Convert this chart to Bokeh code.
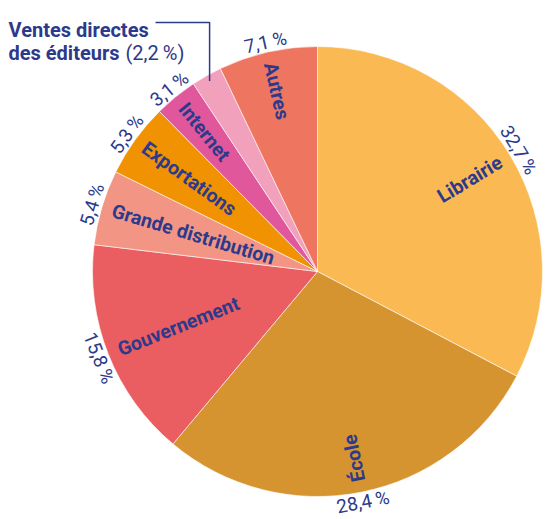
import numpy as np
from bokeh.plotting import figure
from bokeh.models import Range1d, ColumnDataSource
from bokeh.core.properties import value
from bokeh.embed import file_html
from bokeh.resources import INLINE

# ---- data ----
categories = ["Librairie", "École", "Gouvernement", "Grande distribution",
              "Exportations", "Internet", "Ventes directes des éditeurs", "Autres"]
shares = [32.7, 28.4, 15.8, 5.4, 5.3, 3.1, 2.2, 7.1]
colors = ["#FAB952", "#D5942F", "#EA5E61", "#F39585",
          "#F09201", "#E0579B", "#F2A1BD", "#EE7660"]
callout_category = "Ventes directes des éditeurs"
callout_lines = ["Ventes directes", "des éditeurs"]

NAVY = "#2D3A8C"
FONT = "Roboto"

W, H = 545, 519
cx, cy = 317, H - 271
R = 225

def fmt_pct(v):
    return f"{v:.1f}".replace(".", ",") + "\u2009%"

vals = np.array(shares, dtype=float)
cum = np.concatenate([[0.0], np.cumsum(vals)]) / vals.sum()
start = np.pi / 2 - 2 * np.pi * cum[:-1]
end = np.pi / 2 - 2 * np.pi * cum[1:]
mid = (start + end) / 2

p = figure(width=W, height=H, x_range=Range1d(0, W), y_range=Range1d(0, H),
           output_backend="svg", toolbar_location=None, min_border=0,
           x_axis_location=None, y_axis_location=None)
p.grid.visible = False
p.outline_line_color = None
p.background_fill_color = "white"

src = ColumnDataSource(dict(start=start, end=end, color=colors))
p.wedge(x=cx, y=cy, radius=R, start_angle="start", end_angle="end",
        direction="clock", fill_color="color", line_color="white",
        line_width=0.6, source=src)

# in-slice category labels (radial)
lx, ly, lt, la, lal = [], [], [], [], []
px, py, pt, pa = [], [], [], []
for cat, v, a in zip(categories, shares, mid):
    if cat == callout_category:
        continue
    r_lab = 214
    if np.cos(a) > 0.5:
        rot, al = a, "right"
    else:
        rot, al = a + np.pi, "left"
    lx.append(cx + r_lab * np.cos(a)); ly.append(cy + r_lab * np.sin(a))
    lt.append(cat); la.append(rot); lal.append(al)
    # percentage labels (tangential)
    rr = a - np.pi / 2
    while rr <= -np.pi / 2:
        rr += np.pi
    while rr > np.pi / 2:
        rr -= np.pi
    r_pct = 235
    px.append(cx + r_pct * np.cos(a)); py.append(cy + r_pct * np.sin(a))
    pt.append(fmt_pct(v)); pa.append(rr)

lsrc = ColumnDataSource(dict(x=lx, y=ly, text=lt, angle=la, align=lal))
p.text(x="x", y="y", text="text", angle="angle", text_align="align",
       text_baseline="middle", text_color=NAVY, text_font=value(FONT),
       text_font_style="bold", text_font_size="19.5px", source=lsrc)

psrc = ColumnDataSource(dict(x=px, y=py, text=pt, angle=pa))
p.text(x="x", y="y", text="text", angle="angle", text_align="center",
       text_baseline="middle", text_color=NAVY, text_font=value(FONT),
       text_font_size="19px", source=psrc)

# callout for small slice
ci = categories.index(callout_category)
a = mid[ci]
ex, ey = cx + 219 * np.cos(a), cy + 219 * np.sin(a)
ty = H - 22
p.line(x=[155, ex, ex], y=[ty, ty, ey], line_color=NAVY, line_width=1.5)

p.text(x=[8, 8], y=[H - 29, H - 52], text=callout_lines, text_align="left",
       text_baseline="alphabetic", text_color=NAVY, text_font=value(FONT),
       text_font_style="bold", text_font_size="20px")
p.text(x=[125], y=[H - 52], text=["(" + fmt_pct(shares[ci]) + ")"],
       text_align="left", text_baseline="alphabetic", text_color=NAVY,
       text_font=value(FONT), text_font_size="20px")

open("out.html", "w").write(file_html(p, INLINE))
